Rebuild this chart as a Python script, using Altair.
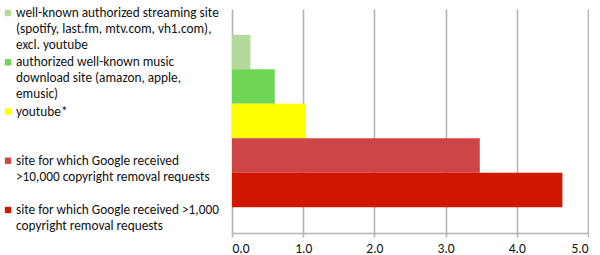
import altair as alt
import pandas as pd

categories = [
    "well-known authorized streaming site (spotify, last.fm, mtv.com, vh1.com), excl. youtube",
    "authorized well-known music download site (amazon, apple, emusic)",
    "youtube*",
    "site for which Google received >10,000 copyright removal requests",
    "site for which Google received >1,000 copyright removal requests",
]
legend_lines = [
    ["well-known authorized streaming site", "(spotify, last.fm, mtv.com, vh1.com),", "excl. youtube"],
    ["authorized well-known music", "download site (amazon, apple,", "emusic)"],
    ["youtube*"],
    ["site for which Google received", ">10,000 copyright removal requests"],
    ["site for which Google received >1,000", "copyright removal requests"],
]
values = [0.26, 0.60, 1.03, 3.48, 4.64]
colors = ["#b5d99a", "#6fd655", "#ffff00", "#cd4545", "#d11600"]
x_ticks = [0, 1, 2, 3, 4, 5]

df = pd.DataFrame({"cat": categories, "value": values, "lines": legend_lines})

FONT = "Carlito, Lato"
color_scale = alt.Scale(domain=categories, range=colors)

bars = alt.Chart(df).mark_bar(size=34.5).encode(
    x=alt.X("value:Q", scale=alt.Scale(domain=[0, 5], nice=False),
            axis=alt.Axis(values=x_ticks, format=".1f", title=None, grid=True,
                          gridColor="#b4b4b4", gridWidth=1.6, domainColor="#b4b4b4",
                          domainWidth=1.6, tickColor="#b4b4b4", tickWidth=1.6, tickSize=4,
                          labelFont=FONT, labelFontSize=13.5, labelColor="#111111",
                          labelPadding=4)),
    y=alt.Y("cat:N", sort=categories,
            scale=alt.Scale(paddingInner=0, paddingOuter=0.75), axis=None),
    color=alt.Color("cat:N", scale=color_scale, legend=None),
).properties(width=356, height=224)

leg_y = alt.Y("cat:N", sort=categories,
              scale=alt.Scale(type="point", range=[4, 201], padding=0), axis=None)
squares = alt.Chart(df).mark_square(size=40, opacity=1).encode(
    x=alt.value(8), y=leg_y,
    color=alt.Color("cat:N", scale=color_scale, legend=None),
)
texts = alt.Chart(df).mark_text(align="left", baseline="top", dy=-7, font=FONT,
                                fontSize=13.3, lineHeight=16, color="#111111").encode(
    x=alt.value(16), y=leg_y, text="lines",
)
legend = (squares + texts).properties(width=222, height=224)

chart = alt.hconcat(legend, bars, spacing=10, bounds="flush").properties(
    padding={"left": 0, "top": 6, "right": 0, "bottom": 0},
    background="white",
).resolve_scale(y="independent", color="shared").configure_view(stroke=None)

chart.save("out.html", embed_options={"renderer": "svg", "actions": False})
